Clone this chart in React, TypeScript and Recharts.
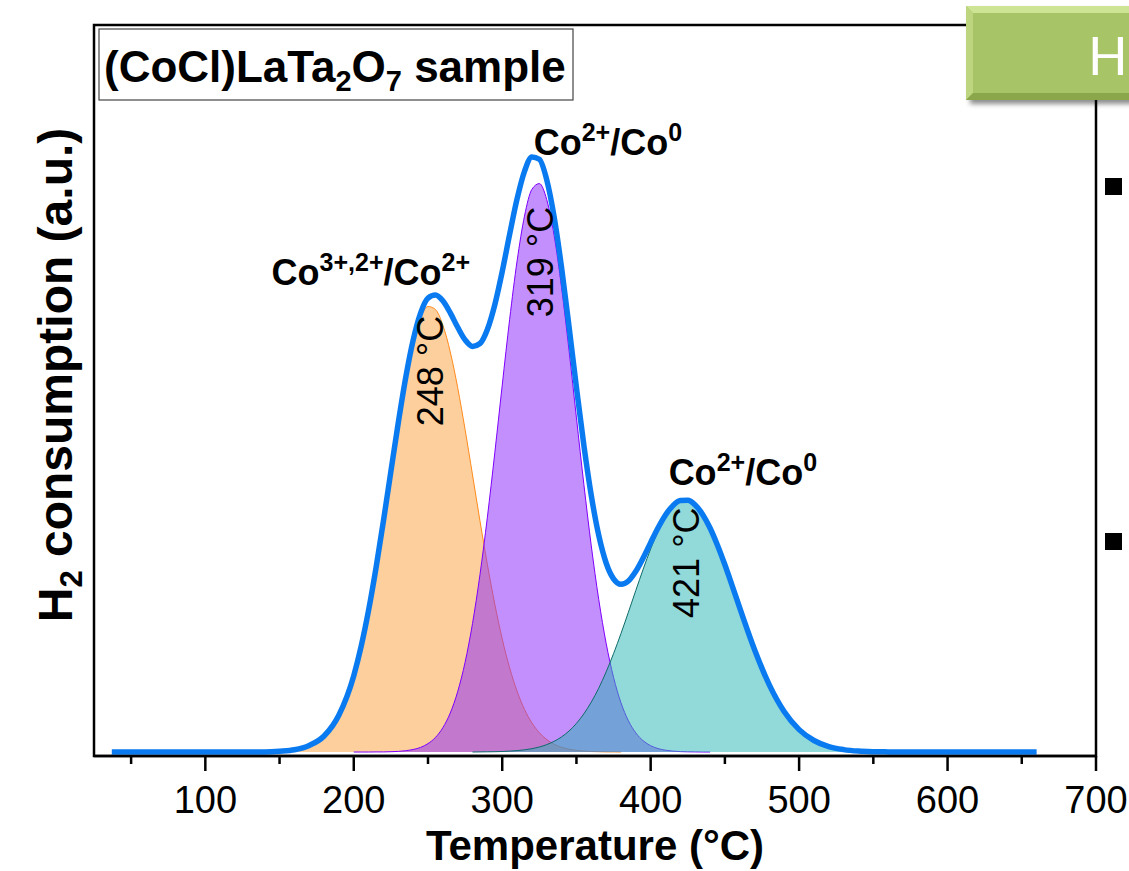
import React from 'react';
import { ComposedChart, Area, Line, XAxis, YAxis, ReferenceArea, ReferenceDot } from 'recharts';

// ---------- data ----------
const temperatures = [
  37, 50, 60, 70, 80, 90, 100, 110, 120, 130, 140, 150, 160, 170, 180, 190,
  200, 205, 210, 215, 220, 225, 230, 235, 240, 245, 250, 255, 260, 265, 270, 275, 280, 285, 290, 295,
  300, 305, 310, 315, 320, 325, 330, 335, 340, 345, 350, 355, 360, 365, 370, 375, 380, 385, 390, 395,
  400, 405, 410, 415, 420, 425, 430, 435, 440, 445, 450, 455, 460,
  470, 480, 490, 500, 510, 520, 530, 540, 550, 560, 570, 580, 590, 600, 610, 620, 630, 640, 650, 660,
];

// Co3+,2+ -> Co2+ component (orange, 248 °C)
const orangePeak = [
  null, null, null, null, null, null, null, null, null, 0, 0.001, 0.008, 0.022, 0.065, 0.16, 0.37,
  0.763, 1.058, 1.419, 1.842, 2.311, 2.804, 3.289, 3.732, 4.094, 4.343, 4.455, 4.425, 4.269, 4.001, 3.643, 3.223, 2.77, 2.312, 1.875, 1.478,
  1.131, 0.841, 0.608, 0.426, 0.291, 0.193, 0.124, 0.077, 0.047, 0.028, 0.016, 0.009, 0.005, 0.003, 0.001, 0.001, 0, null, null, null,
  null, null, null, null, null, null, null, null, null, null, null, null, null,
  null, null, null, null, null, null, null, null, null, null, null, null, null, null, null, null, null, null, null, null,
];

// Co2+ -> Co0 component (purple, 319 °C)
const purplePeak = [
  null, null, null, null, null, null, null, null, null, null, null, null, null, null, null, null,
  0, 0, 0, 0.001, 0.001, 0.003, 0.006, 0.013, 0.025, 0.046, 0.084, 0.145, 0.243, 0.39, 0.604, 0.898, 1.286, 1.772, 2.348, 2.992,
  3.668, 4.327, 4.909, 5.359, 5.627, 5.684, 5.523, 5.163, 4.643, 4.017, 3.342, 2.676, 2.061, 1.527, 1.088, 0.746, 0.492, 0.312, 0.191, 0.112,
  0.063, 0.034, 0.018, 0.009, 0.004, 0.002, 0.001, 0, 0, null, null, null, null,
  null, null, null, null, null, null, null, null, null, null, null, null, null, null, null, null, null, null, null, null,
];

// Co2+ -> Co0 component (teal, 421 °C)
const tealPeak = [
  null, null, null, null, null, null, null, null, null, null, null, null, null, null, null, null,
  null, null, null, null, null, null, null, null, null, null, null, null, null, null, null, null, 0, 0.001, 0.002, 0.003,
  0.005, 0.009, 0.014, 0.022, 0.033, 0.05, 0.074, 0.107, 0.151, 0.21, 0.286, 0.382, 0.499, 0.638, 0.801, 0.984, 1.185, 1.398, 1.616, 1.83,
  2.031, 2.208, 2.352, 2.455, 2.511, 2.516, 2.47, 2.376, 2.24, 2.068, 1.872, 1.659, 1.441,
  1.023, 0.669, 0.403, 0.224, 0.115, 0.054, 0.024, 0.009, 0.003, 0.001, 0, null, null, null, null, null, null, null, null, null,
];

// measured H2 consumption envelope (blue)
const envelope = [
  0, 0, 0, 0, 0, 0, 0, 0, 0, 0, 0.001, 0.008, 0.022, 0.065, 0.16, 0.37,
  0.763, 1.058, 1.419, 1.843, 2.312, 2.807, 3.295, 3.745, 4.119, 4.389, 4.539, 4.57, 4.512, 4.391, 4.247, 4.121, 4.056, 4.085, 4.225, 4.473,
  4.804, 5.177, 5.531, 5.807, 5.951, 5.927, 5.721, 5.347, 4.841, 4.255, 3.644, 3.067, 2.565, 2.168, 1.89, 1.731, 1.677, 1.71, 1.807, 1.942,
  2.094, 2.242, 2.37, 2.464, 2.515, 2.518, 2.471, 2.376, 2.24, 2.068, 1.872, 1.659, 1.441,
  1.023, 0.669, 0.403, 0.224, 0.115, 0.054, 0.024, 0.009, 0.003, 0.001, 0, 0, 0, 0, 0, 0, 0, 0, 0, 0,
];

const xTicks = [50, 100, 150, 200, 250, 300, 350, 400, 450, 500, 550, 600, 650, 700];
const xDomain = [25, 700];
const yDomain = [-0.04, 7.27];

// annotations
const peakTempLabels = ['248 °C', '319 °C', '421 °C'];
const peakTempLabelT = [252, 326.1, 424.2];
const peakTempLabelY = [3.81, 4.9, 1.893];

const speciesLabels = [
  [{ t: 'Co' }, { t: '3+,2+', sup: true }, { t: '/Co' }, { t: '2+', sup: true }],
  [{ t: 'Co' }, { t: '2+', sup: true }, { t: '/Co' }, { t: '0', sup: true }],
  [{ t: 'Co' }, { t: '2+', sup: true }, { t: '/Co' }, { t: '0', sup: true }],
];
const speciesLabelT = [211.5, 371.2, 462.1];
const speciesLabelY = [4.67, 5.97, 2.67];

const FONT = "Arial, 'Liberation Sans', Helvetica, sans-serif";

const renderTick = (props: any) => {
  const { x, y, payload } = props;
  const v = payload.value;
  const major = v % 100 === 0;
  return (
    <g>
      <line x1={x} y1={y} x2={x} y2={y + (major ? 15 : 8)} stroke="#000" strokeWidth={2.5} />
      {major && (
        <text x={x} y={y + 57} textAnchor="middle" fontSize={38} fontFamily={FONT} fill="#000">
          {v}
        </text>
      )}
    </g>
  );
};

const makeSpeciesShape = (parts: any[]) => (p: any) => {
  const cx = p.cx;
  const cy = p.cy;
  let level = 0;
  return (
    <text x={cx} y={cy} textAnchor="middle" fontSize={36} fontWeight="bold" fontFamily={FONT} fill="#000">
      {parts.map((part: any, i: number) => {
        const target = part.sup ? -14 : 0;
        const dy = target - level;
        level = target;
        return (
          <tspan key={i} dy={dy} fontSize={part.sup ? 25 : 36}>
            {part.t}
          </tspan>
        );
      })}
    </text>
  );
};

const makeTempShape = (label: string) => (p: any) => (
  <text
    transform={`translate(${p.cx},${p.cy}) rotate(-90)`}
    textAnchor="middle"
    dominantBaseline="central"
    fontSize={36}
    fontFamily={FONT}
    fill="#000"
  >
    {label}
  </text>
);

export default function App() {
  const data = temperatures.map((T, i) => ({
    T,
    orange: orangePeak[i],
    purple: purplePeak[i],
    teal: tealPeak[i],
    env: envelope[i],
  }));

  return (
    <div
      style={{
        position: 'absolute',
        left: 0,
        top: 0,
        width: 1129,
        height: 871,
        overflow: 'hidden',
        background: '#fff',
      }}
    >
      <ComposedChart width={1129} height={871} data={data} margin={{ top: 25, right: 33, bottom: 0, left: 94 }}>
        <XAxis
          dataKey="T"
          type="number"
          domain={xDomain}
          ticks={xTicks}
          interval={0}
          tickSize={0}
          tickMargin={0}
          tick={renderTick}
          tickLine={false}
          axisLine={{ stroke: '#000', strokeWidth: 2.5 }}
          height={115}
          allowDataOverflow
        />
        <YAxis hide type="number" domain={yDomain} allowDataOverflow />
        <ReferenceArea
          x1={xDomain[0]}
          x2={xDomain[1]}
          y1={yDomain[0]}
          y2={yDomain[1]}
          fill="none"
          stroke="#000"
          strokeWidth={2.5}
          ifOverflow="visible"
        />
        <Area
          type="monotone"
          dataKey="orange"
          stroke="#ff8a1c"
          strokeWidth={1}
          fill="#fdcf9c"
          fillOpacity={1}
          isAnimationActive={false}
          dot={false}
          activeDot={false}
        />
        <Area
          type="monotone"
          dataKey="purple"
          stroke="#7f00ff"
          strokeWidth={1}
          fill="rgb(140,40,250)"
          fillOpacity={0.52}
          isAnimationActive={false}
          dot={false}
          activeDot={false}
        />
        <Area
          type="monotone"
          dataKey="teal"
          stroke="#0e6a6a"
          strokeWidth={1}
          fill="rgb(40,180,180)"
          fillOpacity={0.507}
          isAnimationActive={false}
          dot={false}
          activeDot={false}
        />
        <Line
          type="monotone"
          dataKey="env"
          stroke="#0a7af0"
          strokeWidth={5.5}
          dot={false}
          activeDot={false}
          isAnimationActive={false}
        />
        {speciesLabels.map((parts, i) => (
          <ReferenceDot
            key={'s' + i}
            x={speciesLabelT[i]}
            y={speciesLabelY[i]}
            r={1}
            shape={makeSpeciesShape(parts)}
          />
        ))}
        {peakTempLabels.map((label, i) => (
          <ReferenceDot
            key={'t' + i}
            x={peakTempLabelT[i]}
            y={peakTempLabelY[i]}
            r={1}
            shape={makeTempShape(label)}
          />
        ))}
      </ComposedChart>

      <svg
        width={1129}
        height={871}
        style={{ position: 'absolute', left: 0, top: 0, pointerEvents: 'none' }}
      >
        <defs>
          <filter id="shadow" x="-10%" y="-20%" width="130%" height="150%">
            <feGaussianBlur stdDeviation="2.5" />
          </filter>
        </defs>
        {/* sample title box */}
        <rect x={99} y={29} width={474} height={71} fill="#fff" stroke="#444" strokeWidth={1.2} />
        <text x={104} y={82} fontSize={44} fontWeight="bold" fontFamily={FONT} fill="#000">
          (CoCl)LaTa
          <tspan dy={9} fontSize={29}>2</tspan>
          <tspan dy={-9}>O</tspan>
          <tspan dy={9} fontSize={29}>7</tspan>
          <tspan dy={-9}>{'\u00A0sample'}</tspan>
        </text>

        {/* axis titles */}
        <text
          transform="translate(72,375) rotate(-90)"
          textAnchor="middle"
          fontSize={48}
          fontWeight="bold"
          fontFamily={FONT}
          fill="#000"
        >
          H<tspan dy={10} fontSize={31}>2</tspan>
          <tspan dy={-10}>{'\u00A0consumption (a.u.)'}</tspan>
        </text>
        <text x={595} y={860} textAnchor="middle" fontSize={42} fontWeight="bold" fontFamily={FONT} fill="#000">
          Temperature (°C)
        </text>

        {/* neighbouring panel fragments */}
        <rect x={1105} y={178} width={17} height={17} fill="#000" />
        <rect x={1105} y={533} width={17} height={17} fill="#000" />

        {/* green header box of neighbouring panel */}
        <rect x={970} y={10} width={200} height={94} fill="rgba(0,0,0,0.45)" filter="url(#shadow)" />
        <rect x={966} y={6} width={200} height={94} fill="#a7c566" />
        <polygon points="966,6 1170,6 1163,13 973,13" fill="#cde495" />
        <polygon points="966,6 973,13 973,93 966,100" fill="#bcd57e" />
        <polygon points="966,100 973,93 1163,93 1170,100" fill="#8aa74c" />
        <text x={1088} y={75} fontSize={52} fontFamily="Lato, 'Open Sans', sans-serif" fill="#fff">
          H
        </text>
      </svg>
    </div>
  );
}
